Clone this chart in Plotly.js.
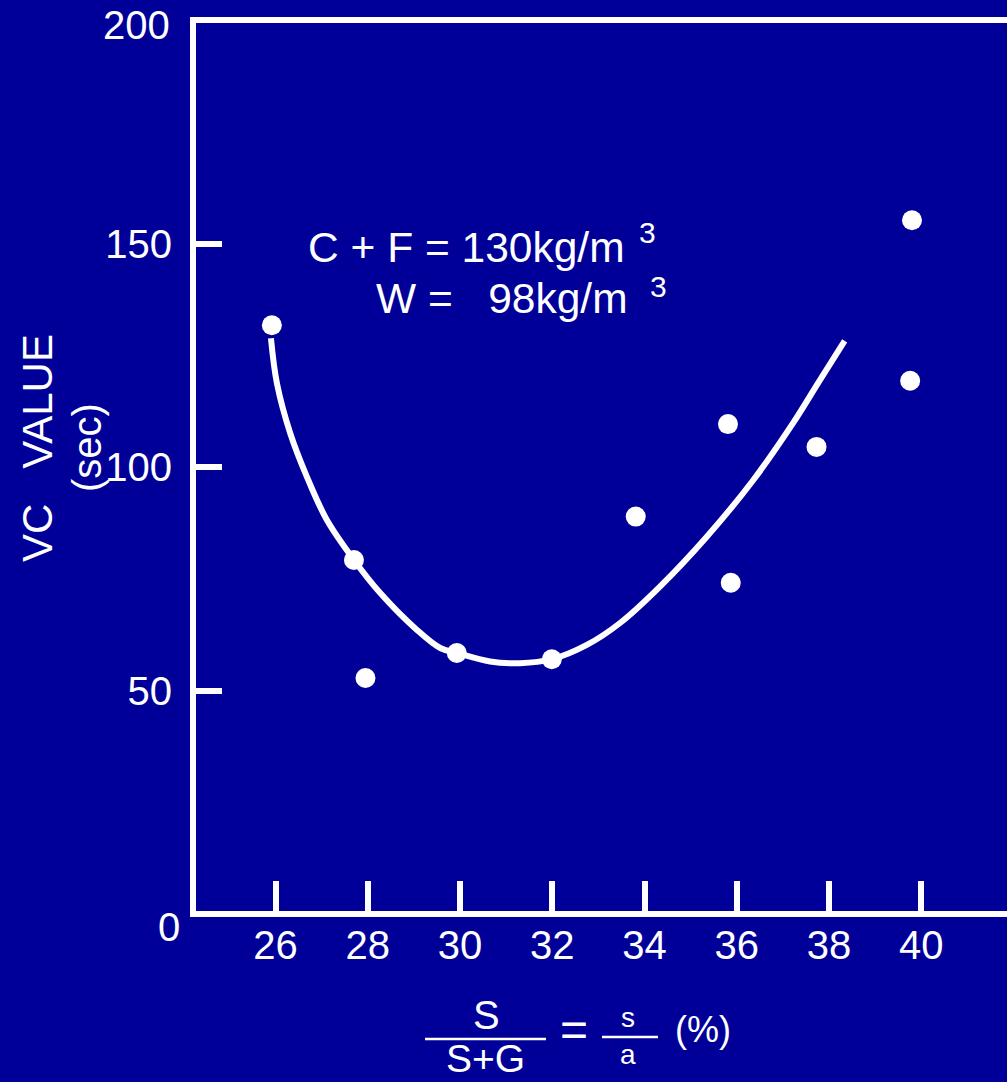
<!DOCTYPE html>
<html>
<head>
<meta charset="utf-8">
<script src="https://cdn.plot.ly/plotly-3.0.1.min.js"></script>
<style>html,body{margin:0;padding:0;background:#000099;}#chart{width:1007px;height:1082px;}</style>
</head>
<body>
<div id="chart"></div>
<script>
// ---- data ----
const xTicks = [26, 28, 30, 32, 34, 36, 38, 40];
const yTicks = [0, 50, 100, 150, 200];
const yTickText = ['', '50', '100', '150', ''];
const zeroLabel = '0';
const topLabel = '200';
const obsX = [25.92, 27.70, 27.95, 29.93, 31.99, 33.81, 35.81, 35.87, 37.73, 39.80, 39.76];
const obsY = [131.7, 79.2, 52.8, 58.4, 57.0, 88.9, 109.6, 74.1, 104.5, 155.2, 119.3];
const fitX = [25.90, 26.03, 26.32, 26.68, 27.11, 27.70, 28.27, 29.06, 29.57, 29.93, 30.65, 31.30, 31.99, 32.75, 33.47, 34.34, 35.35, 36.36, 37.22, 37.80, 38.34];
const fitY = [128.8, 118.7, 107.5, 97.8, 88.2, 79.2, 71.8, 63.6, 59.5, 58.4, 56.5, 56.1, 57.0, 60.2, 65.1, 73.3, 84.4, 97.1, 109.8, 119.4, 128.2];
const yTitle = 'VC\u00a0\u00a0\u00a0VALUE';
const yUnit = '(sec)';
const note1 = 'C + F = 130kg/m';
const note2 = 'W =\u00a0\u00a0\u00a098kg/m';
const sup = '3';

// ---- layout helpers (pixel -> paper) ----
const L = 193, R = 1007, T = 20, B = 914;
const W = R - L, H = B - T;
const px = x => (x - L) / W;
const py = y => (B - y) / H;
const FONT = 'Liberation Sans, Arial, Helvetica, sans-serif';
const white = '#ffffff';

function ann(text, x, y, size, opts) {
  return Object.assign({
    text: text, xref: 'paper', yref: 'paper', x: px(x), y: py(y),
    showarrow: false, xanchor: 'center', yanchor: 'middle',
    font: {family: FONT, size: size, color: white}
  }, opts || {});
}

const traces = [
  {x: fitX, y: fitY, type: 'scatter', mode: 'lines',
   line: {color: white, width: 6, shape: 'spline', smoothing: 1},
   hoverinfo: 'skip', showlegend: false},
  {x: obsX, y: obsY, type: 'scatter', mode: 'markers',
   marker: {color: white, size: 20, line: {width: 0}},
   showlegend: false, cliponaxis: false}
];

const layout = {
  width: 1007, height: 1082,
  margin: {l: L, r: 1007 - R, t: T, b: 1082 - B, pad: 0},
  paper_bgcolor: '#000099', plot_bgcolor: '#000099',
  font: {family: FONT, color: white},
  showlegend: false,
  xaxis: {
    range: [24.21, 41.86], tickvals: xTicks, ticktext: xTicks.map(String),
    ticks: 'inside', ticklen: 33, tickwidth: 6, tickcolor: white,
    showline: false, showgrid: false, zeroline: false,
    tickfont: {family: FONT, size: 40, color: white},
    ticklabelstandoff: 4
  },
  yaxis: {
    range: [0, 200], tickvals: yTicks, ticktext: yTickText,
    ticks: 'inside', ticklen: 29, tickwidth: 6, tickcolor: white,
    showline: false, showgrid: false, zeroline: false,
    tickfont: {family: FONT, size: 40, color: white},
    ticklabelstandoff: 20
  },
  shapes: [
    {type: 'line', xref: 'paper', yref: 'paper', x0: px(L - 3), x1: 1, y0: 1, y1: 1, line: {color: white, width: 6}},
    {type: 'line', xref: 'paper', yref: 'paper', x0: 0, x1: 0, y0: py(B + 3), y1: py(T - 3), line: {color: white, width: 6}},
    {type: 'line', xref: 'paper', yref: 'paper', x0: px(L - 3), x1: 1, y0: 0, y1: 0, line: {color: white, width: 6}},
    // fraction bars in x-axis title
    {type: 'line', xref: 'paper', yref: 'paper', x0: px(425), x1: px(546), y0: py(1039), y1: py(1039), line: {color: white, width: 2.5}},
    {type: 'line', xref: 'paper', yref: 'paper', x0: px(602), x1: px(658), y0: py(1037), y1: py(1037), line: {color: white, width: 2.5}}
  ],
  annotations: [
    ann(zeroLabel, 169, 927, 40),
    ann(topLabel, 172, 25, 40, {xanchor: 'right'}),
    ann(yTitle, 37, 448, 42, {textangle: -90}),
    ann(yUnit, 87, 448, 40, {textangle: -90}),
    ann(note1, 306, 248, 42.5, {xanchor: 'left'}),
    ann(sup, 647, 232, 30),
    ann(note2, 374, 298, 42.5, {xanchor: 'left'}),
    ann(sup, 658, 287, 30),
    ann('S', 486, 1015, 40),
    ann('S+G', 485, 1058, 39),
    ann('=', 574, 1029, 48),
    ann('s', 628, 1017, 28),
    ann('a', 628, 1054, 28),
    ann('(%)', 703, 1029, 36)
  ]
};

Plotly.newPlot('chart', traces, layout, {displayModeBar: false, staticPlot: true});
</script>
</body>
</html>
